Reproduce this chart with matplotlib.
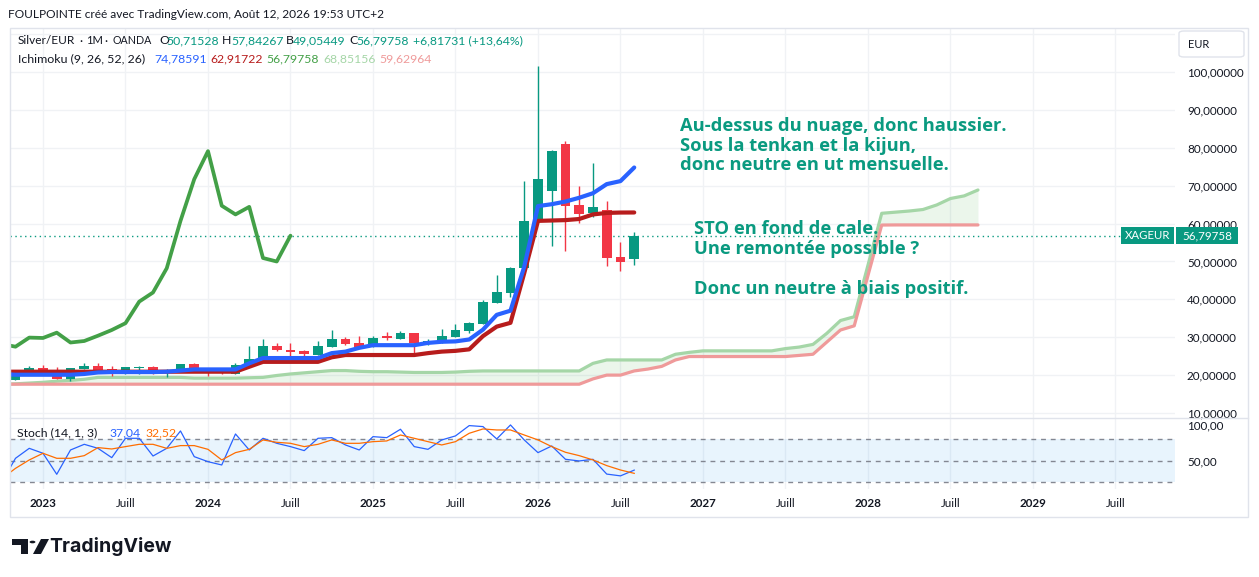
import numpy as np
import matplotlib
matplotlib.use("Agg")
import matplotlib.pyplot as plt
from matplotlib.patches import Rectangle, FancyBboxPatch, Polygon, Circle
from matplotlib.lines import Line2D

# ---------------- data (monthly, Silver/EUR) ----------------
candle_start = "2022-11"
opens = [18.7, 20.6,
         21.8, 21.3, 19.0, 21.6, 22.4, 21.5, 20.5, 21.9, 22.1, 20.5, 21.2, 22.9,
         20.9, 20.8, 20.3, 22.5, 24.0, 27.7, 26.6, 26.4, 25.3, 27.5, 29.4, 28.4,
         27.5, 30.4, 29.6, 31.0, 28.6, 28.6, 30.1, 31.6, 33.6, 39.1, 41.7, 48.3,
         60.7, 68.7, 81.0, 64.9, 62.8, 63.6, 51.2, 50.71528]
highs = [21.0, 22.4,
         22.7, 22.2, 21.9, 23.1, 23.3, 22.4, 22.2, 22.4, 22.4, 21.5, 22.9, 23.2,
         21.8, 21.6, 23.3, 27.7, 29.5, 28.5, 28.6, 26.6, 29.1, 31.9, 30.0, 30.3,
         30.3, 31.3, 31.6, 31.2, 29.4, 32.1, 33.5, 33.9, 39.8, 46.4, 48.4, 71.2,
         101.6, 79.4, 81.8, 69.9, 75.9, 66.0, 55.2, 57.84267]
lows = [18.6, 20.4,
        20.6, 18.9, 18.4, 21.5, 20.9, 19.8, 20.4, 20.2, 20.3, 19.5, 21.1, 20.8,
        19.8, 20.3, 20.2, 22.4, 23.9, 26.3, 24.9, 24.0, 25.2, 27.4, 28.0, 27.3,
        27.4, 29.3, 29.4, 25.3, 27.9, 28.5, 30.0, 31.2, 33.4, 38.9, 40.7, 48.0,
        60.5, 54.1, 52.8, 60.2, 61.6, 48.8, 47.5, 49.05449]
closes = [20.9, 21.8,
          20.9, 19.0, 21.8, 22.4, 21.2, 20.5, 22.1, 22.1, 20.5, 21.3, 22.8, 20.9,
          20.7, 20.6, 22.7, 24.2, 27.7, 26.6, 26.2, 25.6, 27.7, 29.4, 28.2, 27.5,
          29.9, 29.8, 31.2, 28.6, 29.0, 30.4, 31.9, 33.7, 39.4, 41.8, 48.2, 60.7,
          71.7, 79.1, 64.7, 62.4, 64.4, 50.9, 49.98, 56.79758]

line_start = "2022-10"
tenkan = [20.3, 20.1, 20.1,
          20.1, 20.1, 20.1, 20.3, 20.7, 20.8, 20.8, 20.8, 20.8, 20.9, 21.2, 21.5,
          21.5, 21.5, 21.5, 23.1, 24.5, 24.5, 24.5, 24.5, 24.5, 25.8, 26.2, 27.2,
          27.9, 27.9, 27.9, 27.9, 28.5, 28.8, 28.9, 29.4, 32.0, 35.9, 37.0, 48.6,
          64.6, 65.1, 65.8, 66.8, 68.0, 70.4, 71.2, 74.78591]
kijun = [20.9, 20.9, 20.9,
         20.9, 20.9, 20.9, 20.9, 20.9, 20.9, 20.9, 20.9, 20.9, 20.9, 20.9, 20.9,
         20.9, 20.9, 20.9, 22.2, 23.5, 23.5, 23.5, 23.5, 23.5, 24.7, 25.3, 25.3,
         25.3, 25.3, 25.3, 25.3, 25.8, 26.2, 26.4, 26.8, 30.3, 32.8, 33.8, 46.9,
         60.7, 60.8, 60.9, 61.2, 62.4, 62.8, 62.9, 62.91722]

cloud_start = "2022-10"
senkou_a = [17.6, 17.7, 17.9,
            18.1, 18.4, 18.6, 18.9, 19.4, 19.4, 19.4, 19.4, 19.4, 19.4, 19.4, 19.2,
            19.2, 19.2, 19.2, 19.3, 19.4, 19.9, 20.3, 20.6, 20.9, 21.2, 21.2, 21.0,
            20.9, 20.9, 20.8, 20.7, 20.7, 20.7, 20.8, 21.0, 21.1, 21.1, 21.1, 21.1,
            21.1, 21.1, 21.1, 21.1, 23.1, 24.0, 24.0, 24.0, 24.0, 24.0, 25.5, 26.0,
            26.4, 26.4, 26.4, 26.4, 26.4, 26.4, 27.0, 27.4, 28.1, 31.0, 34.4, 35.4,
            49.0, 62.7, 63.0, 63.3, 63.7, 64.9, 66.6, 67.3, 68.85156]
senkou_b = [17.6, 17.6, 17.6,
            17.6, 17.6, 17.6, 17.6, 17.6, 17.6, 17.6, 17.6, 17.6, 17.6, 17.6, 17.6,
            17.6, 17.6, 17.6, 17.6, 17.6, 17.6, 17.6, 17.6, 17.6, 17.6, 17.6, 17.6,
            17.6, 17.6, 17.6, 17.6, 17.6, 17.6, 17.6, 17.6, 17.6, 17.6, 17.6, 17.6,
            17.6, 17.6, 17.6, 17.6, 19.0, 20.0, 20.0, 21.1, 21.6, 22.3, 24.0, 24.9,
            24.9, 24.9, 24.9, 24.9, 24.9, 24.9, 24.9, 25.2, 25.5, 28.7, 31.9, 33.0,
            46.3, 59.6, 59.63, 59.63, 59.63, 59.63, 59.63, 59.63, 59.62964]
chikou_shift = 25

stoch_start = "2022-10"
stoch_k = [20.0, 53.5, 67.4,
           60.5, 31.2, 65.1, 73.0, 67.4, 54.4, 81.4, 81.4, 56.7, 67.4, 91.6, 55.8,
           48.8, 44.2, 87.4, 65.1, 81.4, 74.4, 69.8, 64.2, 81.4, 82.3, 72.1, 65.1,
           83.7, 82.3, 94.0, 69.8, 66.0, 79.1, 84.7, 99.1, 97.7, 80.5, 100.0, 79.1,
           61.4, 70.7, 52.1, 49.8, 52.1, 31.5, 29.0, 37.04]
stoch_d = [25.0, 39.5, 51.2,
           60.5, 53.5, 53.5, 57.2, 68.4, 66.5, 69.8, 73.0, 73.0, 67.4, 71.2, 71.2,
           66.0, 51.2, 61.4, 66.0, 79.1, 75.8, 74.4, 69.8, 73.0, 79.1, 74.4, 74.4,
           76.7, 77.7, 86.0, 81.4, 76.7, 72.1, 76.7, 88.4, 94.4, 93.0, 93.0, 86.0,
           79.1, 69.8, 61.9, 57.2, 51.2, 43.3, 37.2, 32.52]

xtick_dates = ["2023-01", "2023-07", "2024-01", "2024-07", "2025-01", "2025-07",
               "2026-01", "2026-07", "2027-01", "2027-07", "2028-01", "2028-07",
               "2029-01", "2029-07"]
xtick_labels = ["2023", "Juill", "2024", "Juill", "2025", "Juill", "2026", "Juill",
                "2027", "Juill", "2028", "Juill", "2029", "Juill"]
price_ticks = [10, 20, 30, 40, 50, 60, 70, 80, 90, 100]
stoch_ticks = [50, 100]

# ---------------- helpers ----------------
def midx(s):
    y, m = map(int, s.split("-"))
    return (y - 2023) * 12 + (m - 1)

def xs_from(start, n):
    s = midx(start)
    return np.arange(s, s + n)

W, H = 1259, 577
FONT = "Lato"
plt.rcParams["font.family"] = [FONT, "DejaVu Sans"]
fig = plt.figure(figsize=(W / 100, H / 100), dpi=100)
fig.patch.set_facecolor("white")

def rect(x0, y0, x1, y1):
    return [x0 / W, 1 - y1 / H, (x1 - x0) / W, (y1 - y0) / H]

def ftext(x, y, s, **kw):
    kw.setdefault("va", "center")
    kw.setdefault("ha", "left")
    fig.text(x / W, 1 - y / H, s, **kw)

GREEN = "#089981"
RED = "#F23645"
TXT = "#131722"
GRID = "#F0F2F5"
TEAL = "#0A9A80"

XL = (-2.4, 82.33)
ax = fig.add_axes(rect(10, 28, 1175, 417.7))
ax_s = fig.add_axes(rect(10, 417.7, 1175, 489))
for a in (ax, ax_s):
    a.set_xlim(*XL)
    a.set_facecolor("none")
    for sp in a.spines.values():
        sp.set_visible(False)
ax.set_ylim(8.76, 111.6)
ax_s.set_ylim(10.7, 110.1)

# grid
xt = [midx(d) for d in xtick_dates]
for a in (ax, ax_s):
    for x in xt:
        a.axvline(x, color=GRID, lw=1, zorder=0)
for v in range(10, 111, 10):
    ax.axhline(v, color=GRID, lw=1, zorder=0)

# ---------------- cloud ----------------
xc = xs_from(cloud_start, len(senkou_a))
sa = np.array(senkou_a)
sb = np.array(senkou_b)
ax.fill_between(xc, sa, sb, where=sa >= sb, color="#4CAF50", alpha=0.11, lw=0, zorder=1)
ax.fill_between(xc, sa, sb, where=sa < sb, color="#F44336", alpha=0.11, lw=0, zorder=1)
ax.plot(xc, sa, color="#A5D6A7", lw=2.3, zorder=2, solid_capstyle="round")
ax.plot(xc, sb, color="#EF9A9A", lw=2.3, zorder=2, solid_capstyle="round")

# ---------------- candles ----------------
xk = xs_from(candle_start, len(opens))
o = np.array(opens); h = np.array(highs); l = np.array(lows); c = np.array(closes)
cols = np.where(c >= o, GREEN, RED)
ax.vlines(xk, l, h, colors=cols, lw=1.0, zorder=3)
body_h = np.maximum(np.abs(c - o), 0.3)
ax.bar(xk, body_h, bottom=np.minimum(o, c), width=0.72, color=cols, lw=0, zorder=4)

# ---------------- tenkan / kijun / chikou ----------------
xl = xs_from(line_start, len(tenkan))
ax.plot(xl, kijun, color="#B71C1C", lw=3.0, zorder=5, solid_capstyle="round", solid_joinstyle="round")
ax.plot(xl, tenkan, color="#2962FF", lw=3.0, zorder=6, solid_capstyle="round", solid_joinstyle="round")
ax.plot(xk - chikou_shift, c, color="#43A047", lw=2.7, zorder=5, solid_capstyle="round", solid_joinstyle="round")

# current price line
last = closes[-1]
ax.axhline(last, xmin=0, xmax=(1120 - 10) / (1175 - 10), color=TEAL, lw=1.0,
           ls=(0, (1, 2.5)), zorder=2)

# y ticks (right)
ax.yaxis.tick_right()
ax.set_yticks(price_ticks)
ax.set_yticklabels([f"{v},00000" for v in price_ticks])
ax.tick_params(axis="y", length=0, pad=8.6, labelsize=8.4, labelcolor=TXT)
ax.tick_params(axis="x", bottom=False, labelbottom=False)

# ---------------- stochastic ----------------
ax_s.axhspan(20, 80, color="#2196F3", alpha=0.1, lw=0, zorder=0)
for lv in (80, 50, 20):
    ax_s.axhline(lv, color="#787B86", lw=1.0, ls=(0, (3.5, 3.5)), alpha=0.9, zorder=1)
xs = xs_from(stoch_start, len(stoch_k))
ax_s.plot(xs, stoch_k, color="#2962FF", lw=0.9, zorder=3)
ax_s.plot(xs, stoch_d, color="#FF6D00", lw=0.9, zorder=3)
ax_s.yaxis.tick_right()
ax_s.set_yticks(stoch_ticks)
ax_s.set_yticklabels([f"{v},00" for v in stoch_ticks])
ax_s.tick_params(axis="y", length=0, pad=8.6, labelsize=8.4, labelcolor=TXT)
ax_s.set_xticks(xt)
ax_s.set_xticklabels(xtick_labels)
ax_s.tick_params(axis="x", length=0, pad=6.5, labelsize=8.4, labelcolor=TXT)
for lab in ax_s.get_xticklabels():
    if lab.get_text() != "Juill":
        lab.set_fontweight("bold")

# ---------------- frame / decorations ----------------
fig.add_artist(Rectangle((10 / W, 1 - 517 / H), (1248 - 10) / W, (517 - 28) / H,
                         transform=fig.transFigure, fill=False, ec="#E0E3EB", lw=1))
fig.add_artist(Line2D([10 / W, 1248 / W], [1 - 417.7 / H] * 2, transform=fig.transFigure,
                      color="#E0E3EB", lw=1))

# EUR box
fig.add_artist(FancyBboxPatch((1179 / W, 1 - 57 / H), 65 / W, 26 / H,
                              boxstyle="round,pad=0,rounding_size=0.004",
                              transform=fig.transFigure, fc="white", ec="#E0E3EB", lw=1))
ftext(1188, 44, "EUR", fontsize=8, color=TXT)

# price label boxes
fig.canvas.draw()
yd = ax.transData.transform((0, last))[1]
ypix = H - yd
fig.add_artist(Rectangle((1121 / W, (yd - 8.5) / H), 53 / W, 17 / H,
                         transform=fig.transFigure, fc=GREEN, ec="none"))
fig.add_artist(Rectangle((1176 / W, (yd - 8.5) / H), 62 / W, 17 / H,
                         transform=fig.transFigure, fc=GREEN, ec="none"))
ftext(1147.5, ypix, "XAGEUR", fontsize=8.2, color="white", ha="center")
ftext(1207, ypix, f"{last:.5f}".replace(".", ","), fontsize=8.4, color="white", ha="center")

# title
ftext(8, 14, "FOULPOINTE créé avec TradingView.com, Août 12, 2026 19:53 UTC+2", fontsize=8.6, color=TXT)

# header line 1
for x, s, fs in [(18, "Silver/EUR", 8.6), (79, "·", 8.6), (86.5, "1M", 8.0),
                 (104.5, "·", 8.6), (112.5, "OANDA", 7.7)]:
    ftext(x, 41, s, fontsize=fs, color=TXT)
for x, s, col in [(159, "O", TXT), (166.5, "50,71528", GREEN), (222, "H", TXT), (231.5, "57,84267", GREEN),
                  (286, "B", TXT), (293, "49,05449", GREEN), (349, "C", TXT), (356.5, "56,79758", GREEN),
                  (413, "+6,81731 (+13,64%)", GREEN)]:
    ftext(x, 41, s, fontsize=8.8, color=col)
# header line 2
ftext(18, 59, "Ichimoku (9, 26, 52, 26)", fontsize=8.9, color=TXT)
for x, s, col in [(154, "74,78591", "#2962FF"), (210, "62,91722", "#B71C1C"),
                  (266.5, "56,79758", "#43A047"), (323, "68,85156", "#A5D6A7"),
                  (379, "59,62964", "#EF9A9A")]:
    ftext(x, 59, s, fontsize=8.8, color=col)
# stoch header
ftext(17, 433, "Stoch (14, 1, 3)", fontsize=8.8, color=TXT)
ftext(110, 433, "37,04", fontsize=8.8, color="#2962FF")
ftext(146, 433, "32,52", fontsize=8.8, color="#FF6D00")

# annotations
ANN = dict(fontsize=13.2, color=TEAL, fontweight="bold", va="baseline",
           family=["Open Sans", "DejaVu Sans"])
ann1 = ["Au-dessus du nuage, donc haussier.", "Sous la tenkan et la kijun,",
        "donc neutre en ut mensuelle."]
for i, s in enumerate(ann1):
    ftext(680, 131 + 19.7 * i, s, **ANN)
ann2 = [(234.3, "STO en fond de cale."), (254.0, "Une remontée possible ?"),
        (294.0, "Donc un neutre à biais positif.")]
for y, s in ann2:
    ftext(693.5, y, s, **ANN)

# TradingView logo
def P(x, y):
    return (x / W, 1 - y / H)
fig.add_artist(Polygon([P(12, 539), P(28, 539), P(28, 554), P(21, 554), P(21, 545), P(12, 545)],
                       closed=True, transform=fig.transFigure, fc="#131722", ec="none"))
fig.add_artist(Circle(P(32.5, 542), 2.9 / W, transform=fig.transFigure, fc="#131722", ec="none"))
fig.add_artist(Polygon([P(33, 554), P(41, 539), P(49, 539), P(41, 554)],
                       closed=True, transform=fig.transFigure, fc="#131722", ec="none"))
ftext(49, 547, "TradingView", fontsize=14, color="#131722", fontweight="bold",
      family=["Inter", "DejaVu Sans"])

fig.savefig("out.png", dpi=100, facecolor="white")
